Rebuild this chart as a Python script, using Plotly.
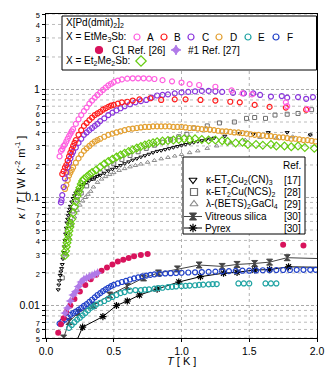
import plotly.graph_objects as go
import math

# ---------------- data ----------------
T_A = [0.10,0.11,0.12,0.13,0.14,0.15,0.16,0.17,0.18,0.19,0.20,0.22,0.24,0.26,0.28,0.30,0.32,0.34,0.36,0.38,0.40,0.42,0.44,0.46,0.48,0.50,0.53,0.56,0.60,0.64,0.68,0.72,0.76,0.80,0.86,0.93,1.00,1.06,1.13,1.25,1.37,1.45,1.52,1.77,1.78,1.93]
K_A = [0.24,0.27,0.28,0.30,0.31,0.33,0.35,0.37,0.39,0.41,0.43,0.48,0.53,0.58,0.63,0.68,0.74,0.79,0.84,0.89,0.94,0.99,1.04,1.09,1.13,1.17,1.21,1.24,1.26,1.27,1.27,1.27,1.26,1.25,1.22,1.19,1.16,1.12,1.10,1.06,0.98,0.92,0.90,0.76,0.70,0.66]

T_B = [0.12,0.13,0.14,0.15,0.16,0.17,0.18,0.19,0.20,0.21,0.22,0.24,0.26,0.28,0.30,0.32,0.34,0.36,0.38,0.40,0.42,0.44,0.46,0.48,0.50,0.53,0.56,0.60,0.64,0.69,0.77,0.85,0.95,1.03,1.14,1.25,1.36,1.43,1.54,1.65,1.77,1.92]
K_B = [0.165,0.175,0.19,0.20,0.22,0.24,0.26,0.28,0.30,0.32,0.34,0.38,0.42,0.46,0.49,0.52,0.55,0.58,0.60,0.62,0.65,0.67,0.69,0.71,0.72,0.74,0.76,0.77,0.79,0.81,0.83,0.80,0.81,0.81,0.80,0.79,0.77,0.76,0.72,0.69,0.68,0.65]

T_C = [0.11,0.115,0.12,0.13,0.14,0.15,0.16,0.17,0.18,0.19,0.20,0.22,0.24,0.26,0.28,0.30,0.32,0.34,0.36,0.38,0.40,0.43,0.46,0.49,0.52,0.55,0.58,0.62,0.66,0.70,0.74,0.78,0.82,0.86,0.90,0.95,1.00,1.05,1.10,1.15,1.20,1.25,1.30,1.38,1.46,1.53,1.58,1.66,1.74,1.78,1.86,1.92,1.97]
K_C = [0.09,0.095,0.105,0.125,0.15,0.17,0.19,0.21,0.23,0.25,0.265,0.29,0.32,0.35,0.38,0.40,0.42,0.44,0.46,0.48,0.51,0.54,0.58,0.61,0.64,0.67,0.70,0.73,0.76,0.78,0.80,0.84,0.88,0.89,0.90,0.92,0.94,0.95,0.96,0.97,0.97,0.96,0.95,0.93,0.92,0.92,0.89,0.86,0.87,0.84,0.85,0.82,0.85]

T_D = [0.14,0.15,0.16,0.17,0.18,0.19,0.20,0.22,0.24,0.26,0.28,0.30,0.32,0.34,0.36,0.38,0.40,0.43,0.46,0.49,0.52,0.55,0.58,0.61,0.64,0.67,0.70,0.73,0.76,0.79,0.82,0.85,0.88,0.91,0.94,0.97,1.00,1.03,1.06,1.09,1.12,1.15,1.18,1.21,1.24,1.27,1.30,1.33,1.36,1.39,1.42,1.45,1.48,1.51,1.54,1.57,1.60,1.63,1.66,1.69,1.72,1.75,1.78,1.81,1.84,1.87,1.90,1.93,1.96,1.99]
K_D = [0.12,0.13,0.145,0.16,0.17,0.18,0.19,0.21,0.23,0.25,0.27,0.285,0.30,0.315,0.33,0.34,0.35,0.365,0.38,0.39,0.40,0.41,0.42,0.43,0.435,0.44,0.445,0.45,0.45,0.455,0.455,0.455,0.455,0.455,0.45,0.45,0.45,0.445,0.44,0.44,0.435,0.43,0.43,0.425,0.42,0.415,0.41,0.41,0.405,0.40,0.40,0.395,0.39,0.385,0.38,0.38,0.375,0.37,0.37,0.365,0.36,0.36,0.355,0.35,0.35,0.345,0.34,0.34,0.335,0.33]

T_E = [0.17,0.19,0.21,0.23,0.25,0.27,0.29,0.31,0.33,0.35,0.37,0.40,0.43,0.46,0.49,0.52,0.55,0.58,0.62,0.66,0.70,0.73,0.76,0.80,0.83,0.86,0.90,0.93,0.96,1.00,1.03,1.06,1.10,1.13,1.16,1.20,1.23,1.26,1.42,1.46,1.50,1.62,1.66,1.70]
K_E = [0.0062,0.0066,0.0070,0.0074,0.0077,0.0081,0.0085,0.0090,0.0095,0.0098,0.0102,0.0106,0.0110,0.0115,0.0120,0.0125,0.0130,0.0133,0.0137,0.0139,0.0139,0.0140,0.0141,0.0143,0.0145,0.0146,0.0148,0.0149,0.0150,0.0151,0.0152,0.0153,0.0154,0.0155,0.0156,0.0157,0.0158,0.0158,0.0160,0.0160,0.0160,0.0160,0.0160,0.0160]

T_F = [0.10,0.12,0.14,0.16,0.18,0.20,0.22,0.24,0.26,0.28,0.30,0.32,0.34,0.36,0.38,0.40,0.42,0.44,0.46,0.48,0.50,0.53,0.56,0.59,0.62,0.65,0.68,0.71,0.74,0.77,0.80,0.84,0.88,0.92,0.96,1.00,1.05,1.10,1.15,1.20,1.25,1.30,1.35,1.40,1.45,1.50,1.55,1.60,1.65,1.70,1.75,1.80,1.85,1.90,1.95,1.99]
K_F = [0.0068,0.0071,0.0074,0.0078,0.0082,0.0085,0.0088,0.0091,0.0095,0.0099,0.0103,0.0108,0.0113,0.0119,0.0125,0.0130,0.0136,0.0141,0.0146,0.0151,0.0155,0.0160,0.0165,0.0169,0.0174,0.0178,0.0182,0.0186,0.0189,0.0192,0.0194,0.0196,0.0198,0.0199,0.0200,0.0201,0.0202,0.0203,0.0204,0.0205,0.0206,0.0207,0.0208,0.0209,0.0210,0.0210,0.0211,0.0212,0.0213,0.0213,0.0213,0.0213,0.0214,0.0214,0.0214,0.0214]

T_C1 = [0.09,0.11,0.13,0.15,0.18,0.21,0.25,0.29,0.33,0.37,0.41,0.45,0.49,0.53,0.57,0.61,0.65,0.70,0.75,1.75,1.90]
K_C1 = [0.0056,0.0067,0.0076,0.0087,0.0100,0.0115,0.0135,0.0155,0.0175,0.0193,0.0210,0.0225,0.0240,0.0255,0.0265,0.0275,0.0285,0.0293,0.0300,0.0365,0.0360]

T_N1 = [0.14,0.16,0.18,0.20,0.22,0.24,0.26,0.28,0.30,0.32,0.34,0.36,0.38]
K_N1 = [0.0085,0.0095,0.011,0.0125,0.0135,0.015,0.0165,0.0175,0.018,0.0185,0.019,0.0195,0.020]

T_G = [0.14,0.145,0.15,0.155,0.16,0.165,0.17,0.175,0.18,0.19,0.20,0.21,0.22,0.23,0.24,0.25,0.26,0.27,0.28,0.30,0.32,0.34,0.37,0.40,0.43,0.46,0.49,0.52,0.55,0.58,0.61,0.64,0.67,0.70,0.73,0.76,0.79,0.82,0.86,0.90,0.94,0.98,1.02,1.06,1.10,1.15,1.20,1.25,1.30,1.34,1.40,1.45,1.49,1.55,1.60,1.66,1.70,1.76,1.81,1.86,1.91,1.98]
K_G = [0.029,0.032,0.035,0.038,0.041,0.045,0.049,0.053,0.057,0.063,0.072,0.082,0.092,0.103,0.113,0.123,0.133,0.142,0.148,0.155,0.163,0.170,0.180,0.192,0.204,0.215,0.226,0.237,0.247,0.257,0.267,0.277,0.287,0.297,0.306,0.315,0.322,0.328,0.333,0.337,0.340,0.345,0.350,0.345,0.350,0.345,0.340,0.340,0.335,0.330,0.320,0.325,0.310,0.310,0.305,0.310,0.300,0.300,0.295,0.300,0.290,0.285]

T_CN = [0.09,0.095,0.10,0.105,0.11,0.115,0.12,0.125,0.13,0.135,0.14,0.145,0.15,0.155,0.16,0.165,0.17,0.175,0.18,0.19,0.20,0.21,0.22,0.23,0.24,0.26,0.28,0.30,0.32,0.34,0.36,0.38,0.40,0.43,0.46,0.49,0.52,0.55,0.58,0.61,0.64,0.67,0.70,0.73,0.76,0.79,0.82,0.85,0.88,0.91,0.94,0.97,1.00,1.03,1.06,1.09,1.12,1.15,1.18,1.21,1.24,1.32,1.43,1.53,1.64,1.78,1.95]
K_CN = [0.014,0.0155,0.017,0.019,0.0205,0.022,0.024,0.027,0.031,0.035,0.040,0.046,0.052,0.058,0.063,0.068,0.073,0.078,0.083,0.091,0.098,0.104,0.110,0.115,0.119,0.127,0.133,0.138,0.143,0.148,0.152,0.157,0.161,0.168,0.176,0.183,0.190,0.198,0.206,0.214,0.222,0.229,0.237,0.244,0.252,0.260,0.268,0.272,0.278,0.284,0.290,0.297,0.303,0.310,0.316,0.323,0.330,0.336,0.342,0.348,0.355,0.370,0.390,0.385,0.400,0.400,0.380]

T_NCS = [0.12,0.14,0.16,0.18,0.20,0.23,0.26,0.30,0.35,0.40,0.45,0.50,0.56,0.62,0.68,0.74,0.80,0.86,0.92,0.98,1.04,1.09,1.19,1.28,1.39,1.48,1.54,1.62,1.69,1.78,1.86,1.96]
K_NCS = [0.018,0.030,0.045,0.060,0.075,0.095,0.110,0.128,0.150,0.170,0.188,0.205,0.225,0.245,0.265,0.285,0.305,0.325,0.345,0.365,0.385,0.44,0.46,0.49,0.50,0.54,0.55,0.54,0.58,0.59,0.60,0.65]

T_BETS = [0.15,0.17,0.19,0.21,0.23,0.25,0.27,0.29,0.31,0.33,0.35,0.38,0.41,0.44,0.47,0.50,0.54,0.58,0.62,0.66,0.70,0.75,0.80,0.85,0.90,0.95,1.00,1.06,1.12,1.19,1.26,1.36,1.47,1.58,1.70,1.82,1.95]
K_BETS = [0.030,0.042,0.055,0.066,0.076,0.085,0.093,0.100,0.107,0.114,0.125,0.138,0.148,0.156,0.163,0.170,0.178,0.185,0.192,0.198,0.204,0.212,0.220,0.228,0.235,0.242,0.250,0.260,0.270,0.285,0.300,0.320,0.340,0.360,0.355,0.365,0.380]

T_SIL = [0.13,0.17,0.24,0.35,0.47,0.60,0.72,0.83,0.97,1.13,1.30,1.41,1.54,1.65,1.78,2.10]
K_SIL = [0.0050,0.0071,0.0086,0.0100,0.0125,0.0150,0.0180,0.0200,0.0218,0.0237,0.0230,0.0240,0.0245,0.0252,0.0277,0.0270]

T_PYR = [0.22,0.27,0.42,0.52,0.60,0.69,0.82,0.98,1.14,1.31,1.41,1.54,1.65,1.79,2.10]
K_PYR = [0.0045,0.0063,0.0079,0.0100,0.0110,0.0125,0.0142,0.0165,0.0185,0.0199,0.0203,0.0213,0.0215,0.0228,0.0225]

# ---------------- styles ----------------
PINK = "#FF5FE0"; RED = "#FF1E1E"; PURPLE = "#8A35DC"; ORANGE = "#E3A032"
TEAL = "#1FA3A3"; BLUE = "#2040C8"; CRIMSON = "#D8135C"; LAV = "#B07AE8"
GREEN = "#66CC11"; GRAY1 = "#6E6E6E"; GRAY2 = "#8A8A8A"; SIL = "#444444"
FONT = "Liberation Sans, Arial, sans-serif"

fig = go.Figure()

def pts(x, y, symbol, color, size, lw=1.2):
    fig.add_trace(go.Scatter(x=x, y=y, mode="markers", showlegend=False, hoverinfo="skip",
                             marker=dict(symbol=symbol, size=size, color=color,
                                         line=dict(width=lw, color=color))))

pts(T_NCS, K_NCS, "square-open", GRAY1, 4, 1)
pts(T_BETS, K_BETS, "triangle-up-open", GRAY2, 4, 1)
fig.add_trace(go.Scatter(x=T_SIL, y=K_SIL, mode="lines+markers", showlegend=False, hoverinfo="skip",
                         line=dict(color=SIL, width=1),
                         marker=dict(symbol="hourglass", size=6, color=SIL, line=dict(width=1, color=SIL))))
fig.add_trace(go.Scatter(x=T_PYR, y=K_PYR, mode="lines+markers", showlegend=False, hoverinfo="skip",
                         line=dict(color="black", width=1),
                         marker=dict(symbol="asterisk-open", size=6, color="black", line=dict(width=1.2, color="black"))))
pts(T_CN, K_CN, "triangle-down-open", "black", 3.5, 1)
pts(T_G, K_G, "diamond-open", GREEN, 6)
pts(T_D, K_D, "circle-open", ORANGE, 5)
pts(T_C, K_C, "circle-open", PURPLE, 5)
pts(T_B, K_B, "circle-open", RED, 5)
pts(T_A, K_A, "circle-open", PINK, 5)
pts(T_E, K_E, "circle-open", TEAL, 5)
pts(T_F, K_F, "circle-open", BLUE, 5)
pts(T_C1, K_C1, "circle", CRIMSON, 6, 0)
pts(T_N1, K_N1, "star-diamond", LAV, 7, 0)

# ---------------- axes helpers ----------------
PX0, PX1, PY0, PY1 = 46, 317, 14, 338   # plot area in pixels
def fx(px): return (px - PX0) / (PX1 - PX0)
def fy(py): return (PY1 - py) / (PY1 - PY0)
yr = [math.log10(0.005), math.log10(5)]
def fv(v): return (math.log10(v) - yr[0]) / (yr[1] - yr[0])

major = [0.01, 0.1, 1]
minor_all = [m * d for d in (0.001, 0.01, 0.1, 1) for m in range(2, 10) if 0.0049 < m * d < 5.01]
def mant(v): return int(round(v / 10 ** math.floor(math.log10(v) + 1e-9)))
lab_vals = sorted(major + [v for v in minor_all if mant(v) <= 7])
lab_txt = [("0.01" if v == 0.01 else "0.1" if v == 1e-1 else "1" if v == 1 else
            '<span style="font-size:7.5px">%d</span>' % mant(v)) for v in lab_vals]

# grid lines (drawn below data) and white legend boxes over them
shapes = []
for v in minor_all:
    shapes.append(dict(type="line", xref="paper", yref="paper", x0=0, x1=1, y0=fv(v), y1=fv(v),
                       line=dict(color="#bcbcbc", width=1, dash="dot"), layer="below"))
for v in major:
    shapes.append(dict(type="line", xref="paper", yref="paper", x0=0, x1=1, y0=fv(v), y1=fv(v),
                       line=dict(color="#a8a8a8", width=1, dash="3px,2px"), layer="below"))
for t in (0.5, 1.0, 1.5):
    shapes.append(dict(type="line", xref="paper", yref="paper", x0=t / 2, x1=t / 2, y0=0, y1=1,
                       line=dict(color="#b0b0b0", width=1, dash="dot"), layer="below"))
shapes += [
    dict(type="rect", xref="paper", yref="paper", x0=fx(62), x1=fx(316.5), y0=fy(70), y1=fy(16),
         line=dict(color="black", width=1), fillcolor="white", layer="below"),
    dict(type="rect", xref="paper", yref="paper", x0=fx(183), x1=fx(305), y0=fy(234), y1=fy(157),
         line=dict(color="black", width=1), fillcolor="white", layer="below"),
]

# ---------------- legends (pixel overlay axes for markers/text) ----------------
leg_markers = [
    (137, 37, "circle-open", PINK, 6), (164, 37, "circle-open", RED, 6),
    (191, 37, "circle-open", PURPLE, 6), (219, 37, "circle-open", ORANGE, 6),
    (248, 37, "circle-open", TEAL, 6), (276, 37, "circle-open", BLUE, 6),
    (99, 50, "circle", CRIMSON, 7), (176, 50, "star-diamond", LAV, 7),
    (141, 61, "diamond-open", GREEN, 8),
    (193, 180, "triangle-down-open", "black", 7), (194, 192, "square-open", GRAY1, 7),
    (194, 204, "triangle-up-open", GRAY2, 7),
]
for (x, y, s, c, sz) in leg_markers:
    fig.add_trace(go.Scatter(x=[x], y=[y], xaxis="x2", yaxis="y2", mode="markers", showlegend=False,
                             hoverinfo="skip",
                             marker=dict(symbol=s, size=sz, color=c, line=dict(width=1.2, color=c))))
for (yy, col, sym) in ((216.5, SIL, "hourglass"), (228, "black", "asterisk-open")):
    fig.add_trace(go.Scatter(x=[184, 202], y=[yy, yy], xaxis="x2", yaxis="y2", mode="lines",
                             showlegend=False, hoverinfo="skip", line=dict(color=col, width=1)))
    fig.add_trace(go.Scatter(x=[193], y=[yy], xaxis="x2", yaxis="y2", mode="markers", showlegend=False,
                             hoverinfo="skip",
                             marker=dict(symbol=sym, size=7, color=col, line=dict(width=1.2, color=col))))

texts = [
    (64, 23, "X[Pd(dmit)<sub>2</sub>]<sub>2</sub>", "left"),
    (64, 37, "X = EtMe<sub>3</sub>Sb:", "left"),
    (150, 37, "A", "center"), (177, 37, "B", "center"), (205, 37, "C", "center"),
    (233, 37, "D", "center"), (261, 37, "E", "center"), (290, 37, "F", "center"),
    (110, 50, "C1 Ref. [26]", "left"), (186, 50, "#1 Ref. [27]", "left"),
    (64, 61, "X = Et<sub>2</sub>Me<sub>2</sub>Sb:", "left"),
    (303, 165, "Ref.", "right"),
    (204, 180, "κ-ET<sub>2</sub>Cu<sub>2</sub>(CN)<sub>3</sub>", "left"), (303, 180, "[17]", "right"),
    (204, 192, "κ-ET<sub>2</sub>Cu(NCS)<sub>2</sub>", "left"), (303, 192, "[28]", "right"),
    (204, 204, "λ-(BETS)<sub>2</sub>GaCl<sub>4</sub>", "left"), (303, 204, "[29]", "right"),
    (203, 216.5, "Vitreous silica", "left"), (303, 216.5, "[30]", "right"),
    (203, 228, "Pyrex", "left"), (303, 228, "[30]", "right"),
]
annotations = [dict(x=x, y=y, xref="x2", yref="y2", text=t, showarrow=False, xanchor=a, yanchor="middle",
                    font=dict(family=FONT, size=10, color="black")) for (x, y, t, a) in texts]
# axis titles placed as paper annotations so the margins stay fixed
annotations += [
    dict(x=fx(181), y=fy(360.5), xref="paper", yref="paper", text="<i>T</i> [ K ]", showarrow=False,
         xanchor="center", yanchor="middle", font=dict(family=FONT, size=11, color="black")),
    dict(x=fx(20), y=fy(178), xref="paper", yref="paper",
         text="<i>κ</i> / <i>T</i> [ W K<sup>-2</sup> m<sup>-1</sup> ]", showarrow=False, textangle=-90,
         xanchor="center", yanchor="middle", font=dict(family=FONT, size=11, color="black")),
]

fig.update_layout(
    width=331, height=370, margin=dict(l=46, r=14, t=14, b=32, autoexpand=False),
    paper_bgcolor="white", plot_bgcolor="white",
    font=dict(family=FONT, size=11, color="black"),
    showlegend=False, annotations=annotations, shapes=shapes,
    xaxis=dict(range=[0, 2], tickvals=[0, 0.5, 1, 1.5, 2], ticktext=["0.0", "0.5", "1.0", "1.5", "2.0"],
               ticks="outside", ticklen=3, tickcolor="black", mirror=True, showline=True,
               linecolor="black", linewidth=1, showgrid=False, automargin=False,
               zeroline=False, tickfont=dict(size=10.5)),
    yaxis=dict(type="log", range=yr, tickvals=lab_vals, ticktext=lab_txt,
               ticks="outside", ticklen=3, tickcolor="black", mirror=True, showline=True,
               linecolor="black", linewidth=1, showgrid=False, automargin=False,
               zeroline=False, tickfont=dict(size=10.5),
               minor=dict(tickvals=[v for v in minor_all if mant(v) > 7], ticks="outside", ticklen=3,
                          tickcolor="black", showgrid=False)),
    xaxis2=dict(range=[PX0, PX1], overlaying="x", anchor="y2", visible=False),
    yaxis2=dict(range=[PY1, PY0], overlaying="y", anchor="x2", visible=False),
)
fig.write_html("out.html")
